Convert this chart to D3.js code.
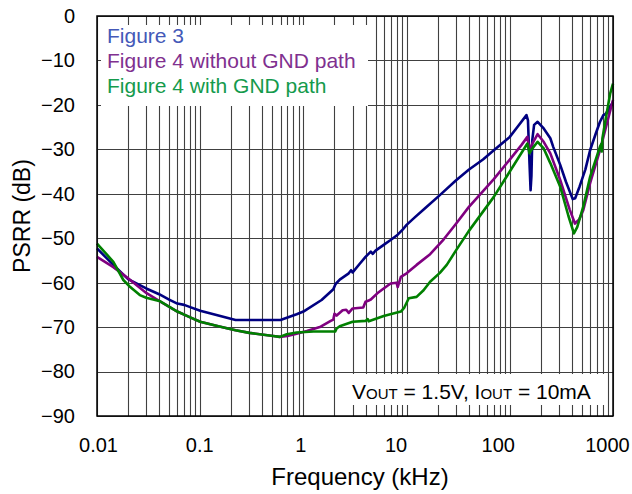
<!DOCTYPE html>
<html>
<head>
<meta charset="utf-8">
<script src="https://cdn.jsdelivr.net/npm/d3@7"></script>
<style>
  body { margin: 0; background: #fff; }
  svg text { font-family: Arial, "Liberation Sans", sans-serif; fill: #000; }
</style>
</head>
<body>
<script>
// PSRR vs frequency, three measurements (kHz, dB)

var freqTicks = [0.01, 0.1, 1, 10, 100, 1000];
var freqLabels = ["0.01", "0.1", "1", "10", "100", "1000"];
var dbTicks = [0, -10, -20, -30, -40, -50, -60, -70, -80, -90];

var seriesNames = ["Figure 3", "Figure 4 without GND path", "Figure 4 with GND path"];

var fig3 = [
  [0.01,-52.3],[0.0144,-56.0],[0.02,-59.2],[0.03,-61.3],[0.04,-62.6],[0.05,-63.8],
  [0.06,-64.7],[0.07,-65.0],[0.08,-65.5],[0.1,-66.3],[0.15,-67.4],[0.22,-68.4],
  [0.6,-68.4],[0.86,-67.1],[1.0,-66.5],[1.5,-63.9],[1.95,-61.5],[2.05,-60.3],
  [2.25,-59.3],[2.75,-57.9],[2.9,-57.2],[3.0,-57.7],[3.5,-55.8],[4.0,-54.2],
  [4.5,-53.0],[4.7,-53.5],[5.0,-52.8],[6.0,-51.5],[7.0,-50.4],[8.2,-49.2],
  [9.2,-48.0],[10,-47.0],[12,-45.3],[15,-43.3],[21,-40.3],[30,-37.0],[40,-34.6],
  [55,-32.3],[70,-30.2],[100,-27.2],[120,-24.8],[145,-22.3],[150,-23.5],
  [155,-32.8],[159,-39.2],[162,-36.0],[165,-28.0],[172,-24.5],[186,-23.8],
  [213,-25.3],[247,-27.5],[264,-29.5],[308,-33.5],[350,-37.3],[407,-41.2],
  [430,-41.0],[474,-38.4],[540,-34.5],[600,-30.2],[680,-26.5],[748,-23.8],
  [807,-22.3],[850,-22.0],[920,-20.8],[1000,-19.3]
];

var fig4NoGnd = [
  [0.01,-54.2],[0.0144,-56.5],[0.02,-59.0],[0.03,-62.3],[0.04,-64.1],[0.06,-66.5],
  [0.08,-67.8],[0.1,-68.8],[0.15,-69.8],[0.22,-70.7],[0.3,-71.3],[0.51,-72.0],
  [0.59,-72.2],[0.7,-72.0],[0.86,-71.5],[1.08,-70.9],[1.47,-69.9],[1.84,-68.6],
  [1.95,-68.3],[2.0,-67.0],[2.1,-67.4],[2.4,-66.2],[2.6,-66.1],[2.75,-66.8],
  [3.0,-65.8],[3.8,-65.6],[4.0,-64.3],[4.3,-64.0],[4.5,-63.8],[5.2,-62.4],
  [6.0,-61.3],[7.0,-60.2],[8.0,-60.0],[8.2,-61.0],[8.8,-58.7],[10,-57.9],
  [12.5,-56.0],[16.9,-53.6],[22.8,-50.3],[30,-46.8],[40,-43.0],[70,-36.7],
  [100,-32.3],[130,-29.0],[148,-27.2],[155,-30.2],[163,-29.0],[186,-26.6],
  [213,-28.3],[247,-30.9],[308,-36.9],[380,-43.5],[428,-46.7],[470,-45.8],
  [515,-43.7],[600,-37.6],[748,-30.2],[1000,-18.9]
];

var fig4Gnd = [
  [0.01,-51.2],[0.0144,-55.3],[0.018,-59.4],[0.021,-61.0],[0.026,-62.8],[0.03,-63.4],
  [0.041,-64.2],[0.06,-66.5],[0.08,-67.8],[0.1,-68.8],[0.15,-69.8],[0.22,-70.7],
  [0.3,-71.3],[0.51,-72.0],[0.59,-72.2],[0.69,-71.6],[0.86,-71.2],[1.25,-71.0],
  [2.03,-71.0],[2.1,-70.3],[2.25,-69.8],[3.0,-68.8],[4.0,-68.6],[4.2,-68.2],
  [4.3,-68.7],[6.0,-67.5],[8.8,-66.5],[9.5,-65.6],[10.5,-63.5],[12.5,-63.2],
  [14.6,-61.7],[16.9,-59.8],[21,-57.8],[24.5,-56.0],[30,-52.8],[40,-48.4],
  [70,-40.7],[100,-35.0],[148,-28.7],[155,-30.9],[163,-30.0],[186,-28.3],
  [213,-29.8],[247,-33.1],[308,-38.4],[370,-45.0],[418,-48.9],[450,-47.5],
  [515,-42.9],[600,-36.2],[748,-29.4],[770,-28.8],[776,-30.5],[790,-27.5],
  [860,-22.5],[940,-17.4],[1000,-15.2]
];

var W = 632, H = 494;
// note: "top" is taken by window.top, so plot edges get their own names
var plotL = 97, plotR = 613, plotT = 16, plotB = 416;
var lineColors = ["#000080", "#800080", "#008000"];
var textColors = ["#4459b8", "#80308f", "#149a4c"];
// excel nudges the x labels a little
var labelNudge = [1, -1, -3, -11, -12, -6];

var svg = d3.select("body").append("svg")
  .attr("width", W)
  .attr("height", H);

var x = d3.scaleLog().domain([0.01, 1000]).range([plotL, plotR]);
var y = d3.scaleLinear().domain([-90, 0]).range([plotB, plotT]);

// grid
var grid = svg.append("g");
grid.selectAll("line.v")
  .data(x.ticks())
  .enter().append("line")
    .attr("class", "v")
    .attr("x1", d => Math.round(x(d)) + 0.5)
    .attr("x2", d => Math.round(x(d)) + 0.5)
    .attr("y1", plotT)
    .attr("y2", plotB)
    .attr("stroke", "#404040")
    .attr("stroke-width", 1.1);
grid.selectAll("line.h")
  .data(dbTicks)
  .enter().append("line")
    .attr("class", "h")
    .attr("x1", plotL)
    .attr("x2", plotR)
    .attr("y1", d => Math.round(y(d)) + 0.5)
    .attr("y2", d => Math.round(y(d)) + 0.5)
    .attr("stroke", "#404040")
    .attr("stroke-width", 1.1);

// white boxes that hide the grid behind legend and note
svg.append("rect")
  .attr("x", 101).attr("y", 25)
  .attr("width", 267).attr("height", 81)
  .attr("fill", "#fff");
svg.append("rect")
  .attr("x", 337).attr("y", 374)
  .attr("width", 269).attr("height", 31)
  .attr("fill", "#fff");

// curves
var line = d3.line()
  .x(d => x(d[0]))
  .y(d => y(d[1]));

var allSeries = [fig3, fig4NoGnd, fig4Gnd];
svg.append("g").selectAll("path")
  .data(allSeries)
  .enter().append("path")
    .attr("d", line)
    .attr("fill", "none")
    .attr("stroke", (d, i) => lineColors[i])
    .attr("stroke-width", 2.6)
    .attr("stroke-linejoin", "round");

// frame
svg.append("rect")
  .attr("x", plotL).attr("y", plotT)
  .attr("width", plotR - plotL).attr("height", plotB - plotT)
  .attr("fill", "none")
  .attr("stroke", "#000")
  .attr("stroke-width", 1.5);

// axes
var yAxis = svg.append("g")
  .attr("transform", "translate(" + plotL + ",0)")
  .call(d3.axisLeft(y).tickValues(dbTicks).tickSize(0).tickPadding(22));
yAxis.select(".domain").remove();
yAxis.selectAll("text").style("font-size", "20px");

var xAxis = svg.append("g")
  .attr("transform", "translate(0," + plotB + ")")
  .call(d3.axisBottom(x).tickValues(freqTicks).tickSize(0).tickPadding(22)
    .tickFormat((d, i) => freqLabels[i]));
xAxis.select(".domain").remove();
xAxis.selectAll("text")
  .style("font-size", "20px")
  .attr("dx", (d, i) => labelNudge[i]);

// axis titles
svg.append("text")
  .attr("x", 360).attr("y", 485)
  .attr("text-anchor", "middle")
  .style("font-size", "24px")
  .text("Frequency (kHz)");
svg.append("text")
  .attr("transform", "translate(30,216) rotate(-90)")
  .attr("text-anchor", "middle")
  .style("font-size", "23px")
  .text("PSRR (dB)");

// legend
svg.append("g").selectAll("text")
  .data(seriesNames)
  .enter().append("text")
    .attr("x", 107)
    .attr("y", (d, i) => 43 + i * 25)
    .style("font-size", "21px")
    .style("fill", (d, i) => textColors[i])
    .text(d => d);

// note
var note = svg.append("text")
  .attr("x", 352).attr("y", 399)
  .style("font-size", "21px");
note.append("tspan").text("V");
note.append("tspan").style("font-size", "15px").text("OUT");
note.append("tspan").text(" = 1.5V, I");
note.append("tspan").style("font-size", "15px").text("OUT");
note.append("tspan").text(" = 10mA");
</script>
</body>
</html>
